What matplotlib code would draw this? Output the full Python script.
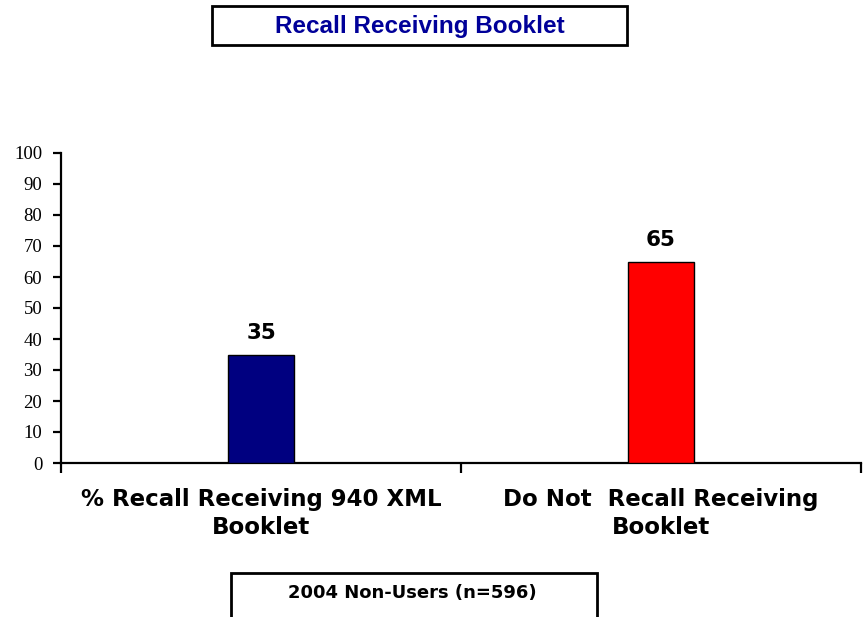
import matplotlib
matplotlib.use("Agg")
import matplotlib.pyplot as plt
from matplotlib.patches import Rectangle

categories = ["% Recall Receiving 940 XML\nBooklet", "Do Not  Recall Receiving\nBooklet"]
values = [35, 65]
bar_colors = ["#000080", "#FF0000"]
yticks = [0, 10, 20, 30, 40, 50, 60, 70, 80, 90, 100]
title_text = "Recall Receiving Booklet"
footer_text = "2004 Non-Users (n=596)"

W, H = 867, 617
fig = plt.figure(figsize=(W / 100, H / 100), dpi=100)
ax = fig.add_axes([61 / W, (H - 463) / H, 800 / W, 310 / H])

x = list(range(len(categories)))
ax.bar(x, values, width=0.167, color=bar_colors, edgecolor="black", linewidth=1.0, zorder=3)
for xi, v in zip(x, values):
    ax.annotate(str(v), (xi, v), xytext=(0, 8.5), textcoords="offset points",
                ha="center", va="bottom", fontsize=15.5, fontweight="bold",
                family="DejaVu Sans", color="black")

ax.set_xlim(-0.5, len(categories) - 0.5)
ax.set_ylim(0, 100)
ax.set_yticks(yticks)
ax.set_yticklabels([str(t) for t in yticks], family="Liberation Serif", fontsize=13.5)
ax.set_xticks(x)
ax.set_xticklabels(categories, family="DejaVu Sans", fontweight="bold", fontsize=16.5,
                   linespacing=1.25)
ax.set_xticks([-0.5, 0.5, 1.5], minor=True)
ax.tick_params(axis="x", which="major", length=0, pad=18)
ax.tick_params(axis="x", which="minor", length=7, width=1.6, direction="out")
ax.tick_params(axis="y", length=5.5, width=1.6, direction="out", pad=8)

for s in ["top", "right"]:
    ax.spines[s].set_visible(False)
for s in ["left", "bottom"]:
    ax.spines[s].set_linewidth(1.6)

def px_rect(x0, y0, x1, y1):
    return Rectangle((x0 / W, 1 - y1 / H), (x1 - x0) / W, (y1 - y0) / H,
                     transform=fig.transFigure, fill=False, edgecolor="black",
                     linewidth=2.0, clip_on=False)

fig.add_artist(px_rect(212, 6, 627, 45))
fig.text(420 / W, 1 - 26 / H, title_text, ha="center", va="center",
         family="Liberation Sans", fontweight="bold", fontsize=17.5, color="#000099")

fig.add_artist(px_rect(231, 573, 597, 640))
fig.text(412 / W, 1 - 593 / H, footer_text, ha="center", va="center",
         family="DejaVu Sans", fontweight="bold", fontsize=13, color="black")

fig.savefig("out.png", dpi=100)
